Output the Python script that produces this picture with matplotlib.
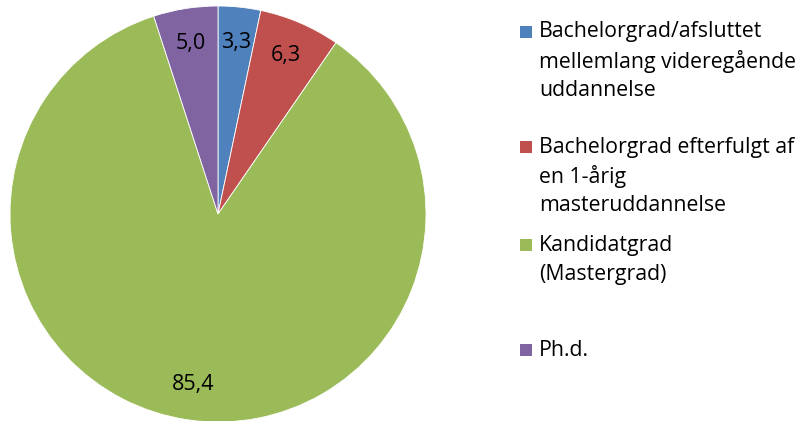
import matplotlib
matplotlib.use("Agg")
import matplotlib.pyplot as plt
from matplotlib.patches import Rectangle

categories = [
    "Bachelorgrad/afsluttet\nmellemlang videregående\nuddannelse",
    "Bachelorgrad efterfulgt af\nen 1-årig\nmasteruddannelse",
    "Kandidatgrad\n(Mastergrad)",
    "Ph.d.",
]
values = [3.3, 6.3, 85.4, 5.0]
value_labels = ["3,3", "6,3", "85,4", "5,0"]
colors = ["#4F81BD", "#C0504D", "#9BBB59", "#8064A2"]

W, H = 803, 421
fig = plt.figure(figsize=(W / 100, H / 100), dpi=100)
plt.rcParams["font.family"] = ["Open Sans", "DejaVu Sans"]

R = 208
cx, cy = 218, 214
ax = fig.add_axes([(cx - R) / W, (H - cy - R) / H, 2 * R / W, 2 * R / H])
wedges, texts = ax.pie(
    values,
    colors=colors,
    startangle=90,
    counterclock=False,
    labels=value_labels,
    labeldistance=0.83,
    radius=1.0,
    wedgeprops=dict(edgecolor="white", linewidth=0.6),
    textprops=dict(fontsize=15.5, color="black", ha="center", va="center"),
)
ax.set_xlim(-1, 1)
ax.set_ylim(-1, 1)
ax.set_aspect("equal")
ax.axis("off")

# manual legend (Excel style)
legend_y = [32, 147, 245, 350]  # first-line center, pixels from top
line_h = 29.5
for lab, col, yy in zip(categories, colors, legend_y):
    fig.patches.append(Rectangle((520 / W, (H - yy - 6) / H), 12 / W, 12 / H,
                                 transform=fig.transFigure, facecolor=col,
                                 edgecolor="none"))
    for i, line in enumerate(lab.split("\n")):
        fig.text(539 / W, (H - yy - i * line_h) / H, line, fontsize=15.3,
                 ha="left", va="center", color="black")

fig.savefig("out.png", dpi=100)
